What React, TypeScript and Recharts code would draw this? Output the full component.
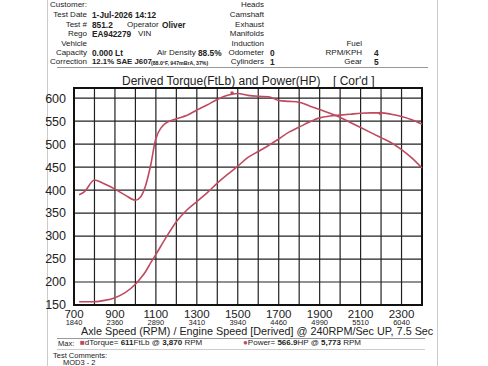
import { LineChart, Line, XAxis, YAxis, CartesianGrid, ReferenceArea, ReferenceDot } from 'recharts';

// axle rpm sample points
const axleRpm = [725, 750, 800, 850, 900, 950, 1000, 1025, 1050, 1075, 1100, 1150, 1200, 1250, 1300, 1350, 1400, 1450, 1500, 1550, 1600, 1650, 1700, 1750, 1800, 1850, 1900, 1950, 2000, 2050, 2100, 2150, 2200, 2250, 2300, 2350, 2400];
const torqueFtLb = [390, 396, 422, 413, 402, 389, 378, 385, 410, 455, 512, 546, 555, 562, 574, 585, 597, 606, 610, 606, 604, 603, 595, 593, 591, 583, 575, 567, 558, 547, 536, 525, 514, 503, 488, 470, 448];
const powerHp = [157, 157, 157, 160, 166, 177, 195, 208, 223, 242, 260, 297, 331, 356, 375, 394, 415, 434, 452, 471, 484, 497, 511, 526, 537, 548, 557, 561, 563, 565, 567, 568, 568, 565, 560, 553, 543];

const gridTicks = [700, 800, 900, 1000, 1100, 1200, 1300, 1400, 1500, 1600, 1700, 1800, 1900, 2000, 2100, 2200, 2300, 2400];
const axleLabels = [700, 900, 1100, 1300, 1500, 1700, 1900, 2100, 2300];
const engineLabels = [1840, 2360, 2890, 3410, 3940, 4460, 4990, 5510, 6040];
const yTicks = [150, 200, 250, 300, 350, 400, 450, 500, 550, 600];

const chartData = axleRpm.map((rpm, i) => ({
  rpm,
  torque: torqueFtLb[i],
  power: powerHp[i],
}));

const RED = '#bf4a5f';
const font = '"Liberation Sans", Arial, sans-serif';

// x tick: axle rpm on top, derived engine rpm below, every other gridline
function AxleTick(props: any) {
  const { x, y, payload } = props;
  const idx = axleLabels.indexOf(payload.value);
  if (idx < 0) return null;
  return (
    <g>
      <text x={x} y={y + 4.5} textAnchor="middle" fontSize={11.5} fill="#222" fontFamily={font}>
        {payload.value}
      </text>
      <text x={x} y={y + 12} textAnchor="middle" fontSize={7.5} fill="#222" fontFamily={font}>
        {engineLabels[idx]}
      </text>
    </g>
  );
}

const T = ({ x, y, children, bold, size = 8, anchorRight }: any) => (
  <div
    style={{
      position: 'absolute',
      top: y - 6,
      left: anchorRight ? undefined : x,
      right: anchorRight ? 488 - x : undefined,
      fontSize: size,
      fontWeight: bold ? 700 : 400,
      whiteSpace: 'nowrap',
      color: '#222',
      lineHeight: '12px',
    }}
  >
    {children}
  </div>
);

export default function App() {
  const rows = [5, 15, 25, 34, 44, 53, 62];
  return (
    <div style={{ position: 'absolute', left: 0, top: 0, width: 488, height: 366, background: '#fff', overflow: 'hidden', fontFamily: font }}>
      {/* sheet edges */}
      <div style={{ position: 'absolute', left: 47, top: 0, width: 1, height: 366, background: '#ccc' }} />
      <div style={{ position: 'absolute', left: 437, top: 0, width: 1, height: 366, background: '#ccc' }} />
      <div style={{ position: 'absolute', left: 57, top: 67, width: 371, height: 1, background: '#999' }} />
      <div style={{ position: 'absolute', left: 57, top: 338, width: 368, height: 1, background: '#999' }} />
      <div style={{ position: 'absolute', left: 57, top: 349, width: 368, height: 1, background: '#ccc' }} />

      {/* header labels */}
      {['Customer:', 'Test Date', 'Test #', 'Rego', 'Vehicle', 'Capacity', 'Correction'].map((l, i) => (
        <T key={l} x={87} y={rows[i]} anchorRight>{l}</T>
      ))}
      <T x={92} y={rows[1]} bold size={8.3}>1-Jul-2026 14:12</T>
      <T x={92} y={rows[2]} bold size={8.3}>851.2</T>
      <T x={127} y={rows[2]}>Operator</T>
      <T x={162} y={rows[2]} bold size={8.3}>Oliver</T>
      <T x={92} y={rows[3]} bold size={8.3}>EA942279</T>
      <T x={138} y={rows[3]}>VIN</T>
      <T x={92} y={rows[5]} bold size={8.3}>0.000 Lt</T>
      <T x={157} y={rows[5]}>Air Density</T>
      <T x={198} y={rows[5]} bold size={8.3}>88.5%</T>
      <T x={92} y={rows[6]} bold size={7.8}>12.1% SAE J607</T>
      <T x={151} y={rows[6] + 1} bold size={5.2}>(88.0°F, 947mBrA, 37%)</T>

      {['Heads', 'Camshaft', 'Exhaust', 'Manifolds', 'Induction', 'Odometer', 'Cylinders'].map((l, i) => (
        <T key={l} x={264} y={rows[i]} anchorRight>{l}</T>
      ))}
      <T x={270} y={rows[5]} bold size={8.3}>0</T>
      <T x={270} y={rows[6]} bold size={8.3}>1</T>

      <T x={362} y={rows[4]} anchorRight>Fuel</T>
      <T x={362} y={rows[5]} anchorRight>RPM/KPH</T>
      <T x={362} y={rows[6]} anchorRight>Gear</T>
      <T x={374} y={rows[5]} bold size={8.3}>4</T>
      <T x={374} y={rows[6]} bold size={8.3}>5</T>

      {/* chart title */}
      <div style={{ position: 'absolute', left: 122, top: 74, fontSize: 12, whiteSpace: 'nowrap', color: '#222' }}>
        Derived Torque(FtLb) and Power(HP)
      </div>
      <div style={{ position: 'absolute', left: 333, top: 74, fontSize: 12, whiteSpace: 'pre', color: '#222' }}>
        {"[ Cor'd ]"}
      </div>

      <div style={{ position: 'absolute', left: 0, top: 70 }}>
        <LineChart width={488} height={270} data={chartData} margin={{ top: 18, right: 66, bottom: 5, left: 34 }}>
          <CartesianGrid stroke="#222" strokeWidth={1.2} />
          <XAxis
            dataKey="rpm"
            type="number"
            domain={[700, 2400]}
            ticks={gridTicks}
            interval={0}
            tick={<AxleTick />}
            tickLine={false}
            axisLine={false}
            height={30}
          />
          <YAxis
            type="number"
            domain={[150, 622]}
            ticks={yTicks}
            interval={0}
            tickLine={false}
            axisLine={false}
            width={40}
            tick={{ fontSize: 12.5, fill: '#222', fontFamily: font }}
            tickMargin={2}
          />
          <ReferenceArea x1={700} x2={2400} y1={150} y2={622} fill="none" stroke="#111" strokeWidth={2} />
          <Line type="monotone" dataKey="torque" stroke={RED} strokeWidth={1.6} dot={false} isAnimationActive={false} />
          <Line type="monotone" dataKey="power" stroke={RED} strokeWidth={1.6} dot={false} isAnimationActive={false} />
          <ReferenceDot x={1472} y={611} r={1.8} fill={RED} stroke="none" />
          <ReferenceDot x={2196} y={567} r={1.8} fill={RED} stroke="none" />
        </LineChart>
      </div>

      {/* footer */}
      <div style={{ position: 'absolute', left: 81, top: 326, fontSize: 10.8, lineHeight: '11px', whiteSpace: 'nowrap', color: '#222' }}>
        Axle Speed (RPM) / Engine Speed [Derived] @ 240RPM/Sec UP, 7.5 Sec
      </div>
      <T x={58} y={344} size={7.5}>Max:</T>
      <T x={80} y={343} size={8}>
        <span style={{ color: RED }}>■</span>dTorque= <b>611</b>FtLb @ <b>3,870</b> RPM
      </T>
      <T x={243} y={343} size={8}>
        <span style={{ color: RED }}>●</span>Power= <b>566.9</b>HP @ <b>5,773</b> RPM
      </T>
      <T x={53} y={356} size={7.5}>Test Comments:</T>
      <T x={63} y={363} size={7.5}>MOD3 - 2</T>
    </div>
  );
}
